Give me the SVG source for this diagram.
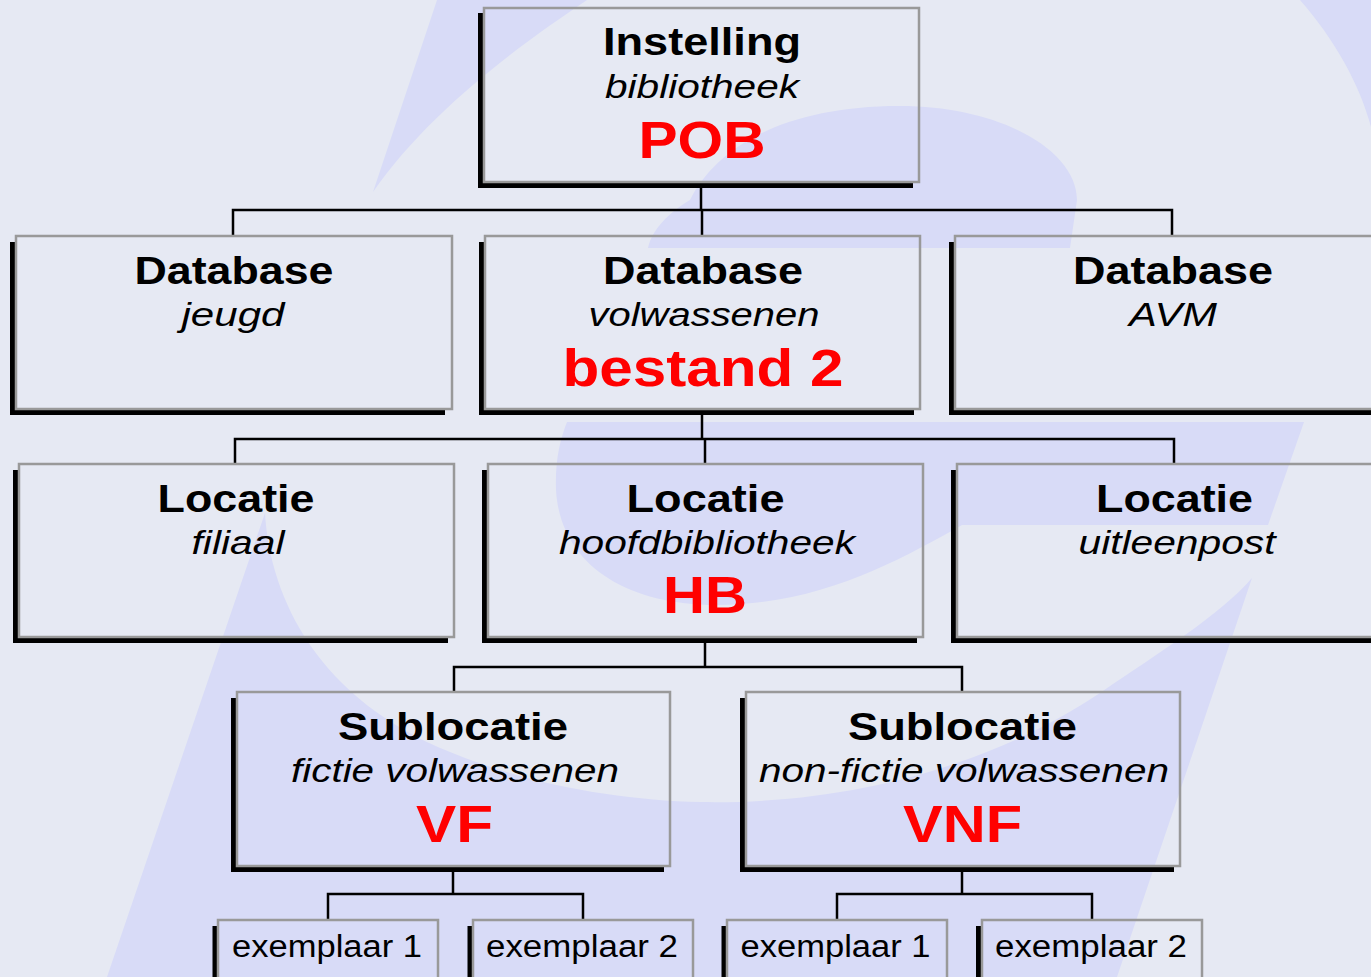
<svg xmlns="http://www.w3.org/2000/svg" width="1371" height="977" viewBox="0 0 1371 977">
<style>
.bg{fill:#e6e9f3}
.wm{fill:#d8dbf7}
.box{fill:none;stroke:#999;stroke-width:2.5}
.sh{fill:none;stroke:#000;stroke-width:6}
.con{fill:none;stroke:#000;stroke-width:2.5}
text{font-family:"Liberation Sans",Arial,sans-serif;text-anchor:middle}
.t{font-weight:bold;font-size:39px;fill:#000}
.s{font-style:italic;font-size:33px;fill:#000}
.r{font-weight:bold;font-size:51px;fill:#ff0000}
.e{font-size:31px;fill:#000}
</style>
<rect class="bg" x="0" y="0" width="1371" height="977"/>
<g id="watermark">
<path class="wm" d="M437 0 L587 0 C520 45 430 110 373 192 Z"/>
<path class="wm" d="M690 200 C715 150 780 106 900 106 C1000 106 1077 150 1077 200 L1070 248 L648 248 C652 230 668 213 690 200 Z"/>
<path class="wm" d="M1300 0 L1371 0 L1371 127 C1360 85 1335 40 1300 0 Z"/>
<path class="wm" d="M567 422 L1304 422 L1268 525 L962 525 C900 560 820 605 717 605 C620 605 560 560 556 490 C555 460 560 440 567 422 Z"/>
<path class="wm" d="M265 513 C270 600 320 700 450 752 C530 785 620 800 700 802 C860 805 1000 760 1100 693 C1160 652 1220 615 1252 578 L1117 977 L107 977 Z"/>
</g>
<g id="connectors">
<path class="con" d="M701 182 V210 M233 236 V210 H1172 V236 M702 210 V236"/>
<path class="con" d="M702 409 V439 M235 464 V439 H1174 V464 M705 439 V464"/>
<path class="con" d="M705 637 V667 M454 692 V667 H962 V692"/>
<path class="con" d="M453 866 V894 M328 920 V894 H583 V920"/>
<path class="con" d="M962 866 V894 M837 920 V894 H1092 V920"/>
</g>
<g id="instelling">
<path class="sh" d="M481 13 V185 H913"/>
<rect class="box" x="484" y="8" width="435" height="174"/>
<text class="t" x="702" y="55" textLength="198" lengthAdjust="spacingAndGlyphs">Instelling</text>
<text class="s" x="702" y="98" textLength="194" lengthAdjust="spacingAndGlyphs">bibliotheek</text>
<text class="r" x="702" y="158" textLength="127" lengthAdjust="spacingAndGlyphs">POB</text>
</g>
<g id="db-jeugd">
<path class="sh" d="M13 242 V412 H445"/>
<rect class="box" x="16" y="236" width="436" height="173"/>
<text class="t" x="234" y="284" textLength="199" lengthAdjust="spacingAndGlyphs">Database</text>
<text class="s" x="233" y="326" textLength="103" lengthAdjust="spacingAndGlyphs">jeugd</text>
</g>
<g id="db-volwassenen">
<path class="sh" d="M482 242 V412 H914"/>
<rect class="box" x="485" y="236" width="435" height="173"/>
<text class="t" x="703" y="284" textLength="200" lengthAdjust="spacingAndGlyphs">Database</text>
<text class="s" x="704" y="326" textLength="231" lengthAdjust="spacingAndGlyphs">volwassenen</text>
<text class="r" x="703" y="386" textLength="281" lengthAdjust="spacingAndGlyphs">bestand 2</text>
</g>
<g id="db-avm">
<path class="sh" d="M952 242 V412 H1385"/>
<rect class="box" x="955" y="236" width="436" height="173"/>
<text class="t" x="1173" y="284" textLength="200" lengthAdjust="spacingAndGlyphs">Database</text>
<text class="s" x="1173" y="326" textLength="88" lengthAdjust="spacingAndGlyphs">AVM</text>
</g>
<g id="loc-filiaal">
<path class="sh" d="M16 470 V640 H448"/>
<rect class="box" x="19" y="464" width="435" height="173"/>
<text class="t" x="236" y="511.5" textLength="157" lengthAdjust="spacingAndGlyphs">Locatie</text>
<text class="s" x="238" y="554" textLength="93" lengthAdjust="spacingAndGlyphs">filiaal</text>
</g>
<g id="loc-hb">
<path class="sh" d="M485 470 V640 H917"/>
<rect class="box" x="488" y="464" width="435" height="173"/>
<text class="t" x="705.5" y="511.5" textLength="158" lengthAdjust="spacingAndGlyphs">Locatie</text>
<text class="s" x="707" y="554" textLength="296" lengthAdjust="spacingAndGlyphs">hoofdbibliotheek</text>
<text class="r" x="705" y="613" textLength="84" lengthAdjust="spacingAndGlyphs">HB</text>
</g>
<g id="loc-uitleenpost">
<path class="sh" d="M954 470 V640 H1386"/>
<rect class="box" x="957" y="464" width="435" height="173"/>
<text class="t" x="1174.5" y="511.5" textLength="157" lengthAdjust="spacingAndGlyphs">Locatie</text>
<text class="s" x="1177" y="554" textLength="197" lengthAdjust="spacingAndGlyphs">uitleenpost</text>
</g>
<g id="sub-vf">
<path class="sh" d="M234 698 V869 H664"/>
<rect class="box" x="237" y="692" width="433" height="174"/>
<text class="t" x="453" y="739.5" textLength="230" lengthAdjust="spacingAndGlyphs">Sublocatie</text>
<text class="s" x="455" y="782" textLength="328" lengthAdjust="spacingAndGlyphs">fictie volwassenen</text>
<text class="r" x="454.5" y="842" textLength="77" lengthAdjust="spacingAndGlyphs">VF</text>
</g>
<g id="sub-vnf">
<path class="sh" d="M743 698 V869 H1174"/>
<rect class="box" x="746" y="692" width="434" height="174"/>
<text class="t" x="962.5" y="739.5" textLength="229" lengthAdjust="spacingAndGlyphs">Sublocatie</text>
<text class="s" x="964" y="782" textLength="410" lengthAdjust="spacingAndGlyphs">non-fictie volwassenen</text>
<text class="r" x="962.5" y="842" textLength="119" lengthAdjust="spacingAndGlyphs">VNF</text>
</g>
<g id="ex-vf-1">
<path class="sh" d="M215.5 926 V985"/>
<rect class="box" x="218" y="920" width="220" height="62"/>
<text class="e" x="327" y="957" textLength="190" lengthAdjust="spacingAndGlyphs">exemplaar 1</text>
</g>
<g id="ex-vf-2">
<path class="sh" d="M470.5 926 V985"/>
<rect class="box" x="473" y="920" width="220" height="62"/>
<text class="e" x="582" y="957" textLength="192" lengthAdjust="spacingAndGlyphs">exemplaar 2</text>
</g>
<g id="ex-vnf-1">
<path class="sh" d="M724.5 926 V985"/>
<rect class="box" x="727" y="920" width="220" height="62"/>
<text class="e" x="835.5" y="957" textLength="190" lengthAdjust="spacingAndGlyphs">exemplaar 1</text>
</g>
<g id="ex-vnf-2">
<path class="sh" d="M979 926 V985"/>
<rect class="box" x="982" y="920" width="220" height="62"/>
<text class="e" x="1091" y="957" textLength="192" lengthAdjust="spacingAndGlyphs">exemplaar 2</text>
</g>
</svg>
